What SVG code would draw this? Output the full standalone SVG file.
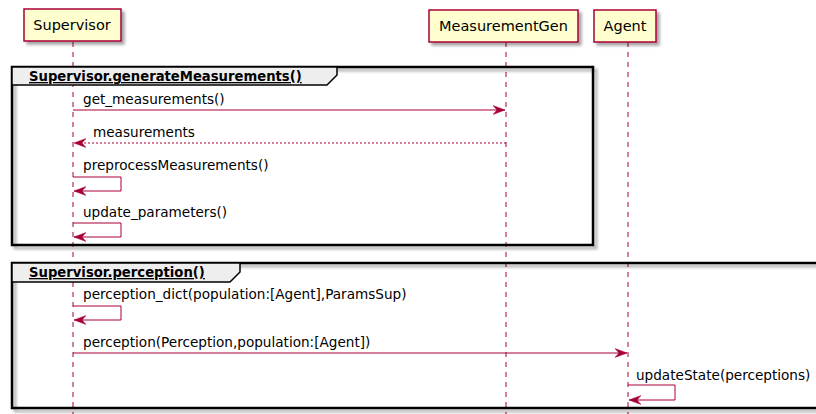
<svg xmlns="http://www.w3.org/2000/svg" width="816" height="414" viewBox="0 0 816 414">
  <style>
    .bg { fill: #ffffff; }
    .part rect { fill: #FEFECE; stroke: #A80036; stroke-width: 1.5; }
    .part text { font-family: "DejaVu Sans", "Liberation Sans", sans-serif; font-size: 14.5px; fill: #000; text-anchor: middle; }
    .life { stroke: #A80036; stroke-width: 1; stroke-dasharray: 5 5; fill: none; }
    .frame { fill: none; stroke: #000; stroke-width: 2.5; }
    .tab { fill: #EEEEEE; stroke: #000; stroke-width: 1.5; }
    .tabtext { font-family: "DejaVu Sans", "Liberation Sans", sans-serif; font-size: 13.2px; font-weight: bold; fill: #000; text-decoration: underline; }
    .msg { stroke: #A80036; stroke-width: 1; fill: none; }
    .ret { stroke-dasharray: 2 2; }
    .label { font-family: "DejaVu Sans", "Liberation Sans", sans-serif; font-size: 13.6px; fill: #000; }
  </style>
  <defs>
    <filter id="shadow" x="-10%" y="-10%" width="130%" height="140%">
      <feGaussianBlur in="SourceAlpha" stdDeviation="1.5"/>
      <feOffset dx="3" dy="3" result="off"/>
      <feComponentTransfer><feFuncA type="linear" slope="0.35"/></feComponentTransfer>
      <feMerge><feMergeNode/><feMergeNode in="SourceGraphic"/></feMerge>
    </filter>
    <marker id="head" viewBox="0 0 13 10" refX="12" refY="5" markerWidth="13" markerHeight="10" markerUnits="userSpaceOnUse" orient="auto">
      <path d="M0,0.5 L12,5 L0,9.5 L4,5 Z" fill="#A80036" stroke="#A80036" stroke-width="0.5"/>
    </marker>
  </defs>

  <rect class="bg" x="0" y="0" width="816" height="414"/>

  <!-- lifelines -->
  <g id="lifelines">
    <line class="life" x1="73" y1="42" x2="73" y2="414"/>
    <line class="life" x1="506" y1="42" x2="506" y2="414"/>
    <line class="life" x1="628" y1="42" x2="628" y2="414"/>
  </g>

  <!-- participants -->
  <g id="supervisor" class="part">
    <rect x="24" y="9" width="97" height="32" filter="url(#shadow)"/>
    <text x="72" y="30">Supervisor</text>
  </g>
  <g id="measurementgen" class="part">
    <rect x="429" y="10" width="149" height="32" filter="url(#shadow)"/>
    <text x="503.5" y="31">MeasurementGen</text>
  </g>
  <g id="agent" class="part">
    <rect x="594" y="10" width="62" height="32" filter="url(#shadow)"/>
    <text x="625" y="31">Agent</text>
  </g>

  <!-- combined fragment: generateMeasurements -->
  <g id="frame-generate">
    <rect class="frame" x="12" y="67" width="581" height="178" filter="url(#shadow)"/>
    <path class="tab" d="M12,67 H337 V75 L327,85 H12 Z"/>
    <text class="tabtext" x="29" y="81">Supervisor.generateMeasurements()</text>
  </g>

  <!-- combined fragment: perception -->
  <g id="frame-perception">
    <rect class="frame" x="12" y="263" width="820" height="145" filter="url(#shadow)"/>
    <path class="tab" d="M12,263 H240 V272 L230,282 H12 Z"/>
    <text class="tabtext" x="29" y="277">Supervisor.perception()</text>
  </g>

  <!-- messages -->
  <g id="connectors">
    <line class="msg" x1="73" y1="110" x2="505" y2="110" marker-end="url(#head)"/>
    <line class="msg ret" x1="506" y1="143" x2="74" y2="143" marker-end="url(#head)"/>
    <path class="msg" d="M73,177 H121 V191 H74" marker-end="url(#head)"/>
    <path class="msg" d="M73,223 H121 V237 H74" marker-end="url(#head)"/>
    <path class="msg" d="M73,306 H121 V320 H74" marker-end="url(#head)"/>
    <line class="msg" x1="73" y1="353" x2="627" y2="353" marker-end="url(#head)"/>
    <path class="msg" d="M628,385 H675 V400 H629" marker-end="url(#head)"/>
  </g>

  <g id="labels">
    <text class="label" x="83" y="104">get_measurements()</text>
    <text class="label" x="93" y="137">measurements</text>
    <text class="label" x="83" y="170">preprocessMeasurements()</text>
    <text class="label" x="83" y="217">update_parameters()</text>
    <text class="label" x="83" y="299">perception_dict(population:[Agent],ParamsSup)</text>
    <text class="label" x="83" y="347">perception(Perception,population:[Agent])</text>
    <text class="label" x="636" y="380">updateState(perceptions)</text>
  </g>
</svg>
